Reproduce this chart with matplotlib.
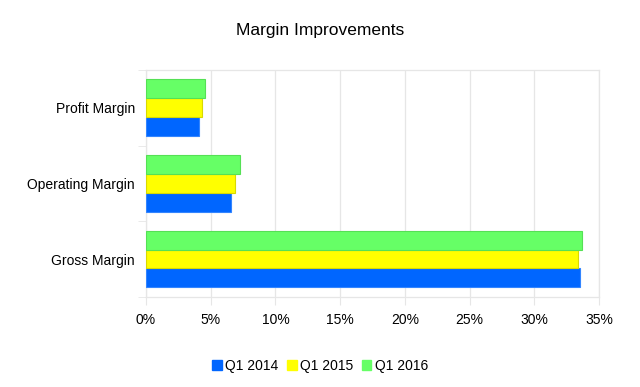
import numpy as np
import matplotlib.pyplot as plt
from matplotlib.ticker import PercentFormatter
from matplotlib.patches import Patch

plt.rcParams['font.family'] = ['Liberation Sans', 'DejaVu Sans']

# %% data
categories = ['Gross Margin', 'Operating Margin', 'Profit Margin']
series = ['Q1 2014', 'Q1 2015', 'Q1 2016']
q1_2014 = [33.5, 6.6, 4.1]
q1_2015 = [33.4, 6.9, 4.33]
q1_2016 = [33.65, 7.3, 4.57]
colors = ['#0066ff', '#ffff00', '#66ff66']
edges = ['#3385ff', '#d9d900', '#55e055']
line_gray = '#e6e6e6'

# %% plot
fig = plt.figure(figsize=(6.4, 3.87), dpi=100)
ax = fig.add_axes([0.228, 0.233, 0.708, 0.586])

y = np.arange(len(categories))
h = 0.25
for i, vals in enumerate([q1_2014, q1_2015, q1_2016]):
    ax.barh(y + (i - 1) * h, vals, height=h, color=colors[i],
            edgecolor=edges[i], linewidth=0.8, zorder=3)

ax.set_xlim(0, 35)
ax.set_ylim(-0.5, 2.5)
ax.set_xticks(np.arange(0, 36, 5))
ax.xaxis.set_major_formatter(PercentFormatter(decimals=0))
ax.set_yticks(y)
ax.set_yticklabels(categories)
ax.set_yticks([-0.5, 0.5, 1.5, 2.5], minor=True)
ax.tick_params(axis='y', which='major', length=0, pad=8, labelsize=10)
ax.tick_params(axis='y', which='minor', length=6, color=line_gray)
ax.tick_params(axis='x', length=6, color=line_gray, labelsize=10, pad=6)
ax.grid(axis='x', color=line_gray, linewidth=0.9, zorder=0)
for s in ax.spines.values():
    s.set_color(line_gray)
    s.set_linewidth(0.9)

fig.suptitle('Margin Improvements', fontsize=12.5, y=0.94)

handles = [Patch(facecolor=c, edgecolor=c) for c in colors]
fig.legend(handles, series, loc='center', bbox_to_anchor=(0.5, 0.055), ncol=3,
           frameon=False, fontsize=10, handlelength=0.7, handleheight=0.7,
           handletextpad=0.25, columnspacing=0.6)

plt.savefig('out.png', dpi=100)
